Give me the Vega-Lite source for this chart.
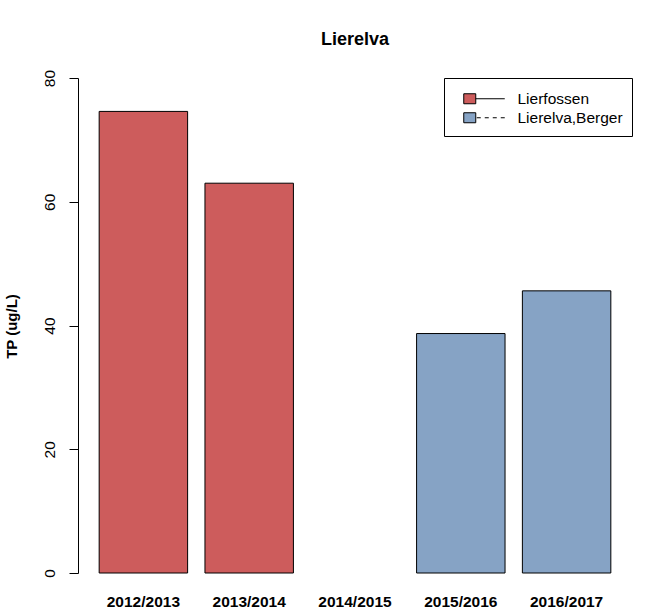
{
  "$schema": "https://vega.github.io/schema/vega-lite/v6.json",
  "width": 554,
  "height": 495,
  "autosize": {"type": "none"},
  "padding": {"left": 78, "top": 78, "right": 35, "bottom": 43},
  "title": {"text": "Lierelva", "fontSize": 18, "font": "Liberation Sans", "fontWeight": "bold", "anchor": "middle", "frame": "group", "baseline": "alphabetic", "offset": 6, "color": "black"},
  "data": {"values": [
    {"year": "2012/2013", "site": "Lierfossen", "tp": 74.6},
    {"year": "2013/2014", "site": "Lierfossen", "tp": 63.0},
    {"year": "2015/2016", "site": "Lierelva,Berger", "tp": 38.7},
    {"year": "2016/2017", "site": "Lierelva,Berger", "tp": 45.6}
  ]},
  "mark": {"type": "bar", "stroke": "black", "strokeWidth": 1},
  "encoding": {
    "x": {
      "field": "year", "type": "nominal",
      "scale": {"domain": ["2012/2013", "2013/2014", "2014/2015", "2015/2016", "2016/2017"], "paddingInner": 0.164, "paddingOuter": 0.2},
      "axis": {"title": null, "labelAngle": 0, "domain": false, "ticks": false, "tickSize": 0, "labelPadding": 21, "labelFontSize": 15.5, "labelFontWeight": "bold", "labelColor": "black", "labelBaseline": "top", "labelFont": "Liberation Sans"}
    },
    "y": {
      "field": "tp", "type": "quantitative",
      "scale": {"domain": [0, 80], "nice": false},
      "axis": {"title": "TP (ug/L)", "values": [0, 20, 40, 60, 80], "grid": false, "tickSize": 9, "labelAngle": 270, "labelAlign": "center", "labelBaseline": "bottom", "labelPadding": 12, "labelFontSize": 15.5, "labelFont": "Liberation Sans", "domainColor": "black", "tickColor": "black", "labelColor": "black", "titleFontSize": 15, "titleFont": "Liberation Sans", "titleFontWeight": "bold", "titleColor": "black", "titleAngle": 270, "titleX": -62, "titleY": 248, "titleAlign": "center", "titleBaseline": "alphabetic", "labelFlush": false, "labelOverlap": false}
    },
    "color": {
      "field": "site", "type": "nominal",
      "scale": {"domain": ["Lierfossen", "Lierelva,Berger"], "range": ["#CD5C5C", "#86A3C5"]},
      "legend": {
        "title": " ", "titleFontSize": 4, "titlePadding": 0, "orient": "top-right", "offset": 0, "strokeColor": "black", "fillColor": "white", "padding": 9,
        "symbolSize": 100, "labelOffset": 49, "labelFontSize": 15.5, "labelFont": "Liberation Sans", "labelColor": "black", "rowPadding": 2,
        "symbolStrokeColor": "black", "symbolStrokeWidth": 1,
        "encode": {"symbols": {"update": {
          "shape": {"signal": "datum.value === 'Lierfossen' ? 'M0.6,-1H3V1H0.6Z M3,0H8.8' : 'M0.6,-1H3V1H0.6Z M3.2,0H4 M4.8,0H5.6 M6.4,0H7.2 M8,0H8.8'"},
          "stroke": {"value": "black"},
          "strokeWidth": {"value": 1},
          "opacity": {"value": 1}
        }}}
      }
    }
  },
  "config": {"view": {"stroke": null}, "font": "Liberation Sans"}
}
